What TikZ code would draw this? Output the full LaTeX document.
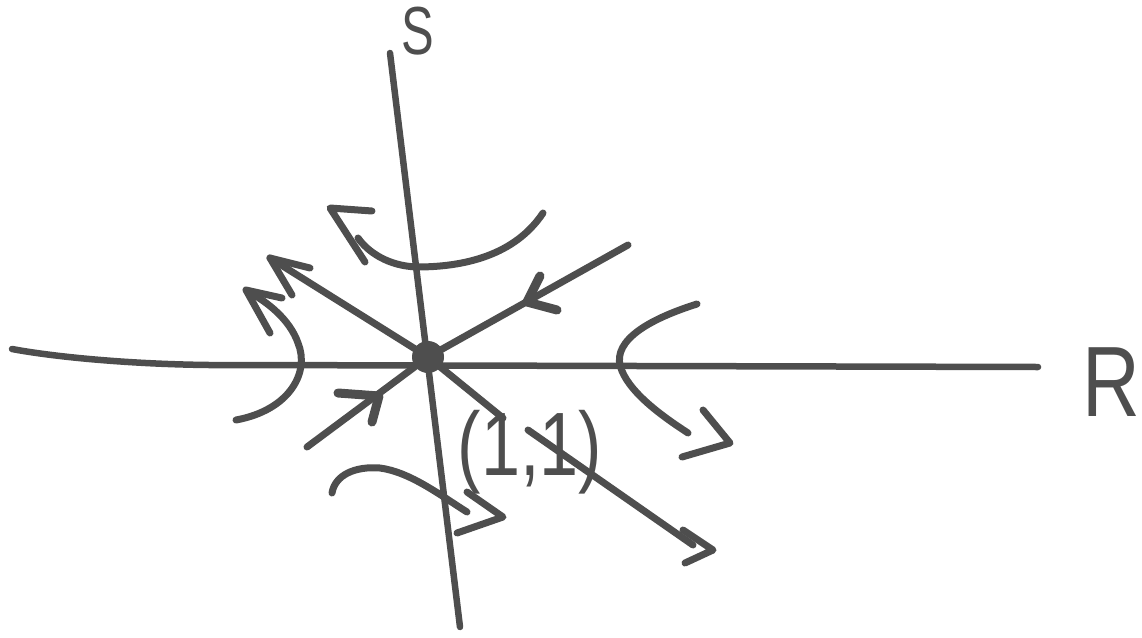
\documentclass[tikz,border=0pt]{standalone}
\usepackage{fontspec}
\newfontfamily\handfont{Liberation Sans}
\usetikzlibrary{calc}
\definecolor{pen}{RGB}{78,78,78}
\tikzset{
  stroke/.style={draw=pen, line width=7pt, line cap=round, line join=round},
  axisline/.style={stroke, line width=6.5pt},
  barb/.style={stroke, line width=7pt},
  heavybarb/.style={stroke, line width=9pt},
  hand/.style={text=pen, inner sep=0pt},
  dot/.style={circle, fill=pen, draw=none, minimum size=32pt, inner sep=0pt}
}
\begin{document}
\begin{tikzpicture}[x=1pt,y=-1pt]
\useasboundingbox (0,0) rectangle (1142,637);
% coordinates
\coordinate (hL) at (12,349);
\coordinate (hR) at (1038,367);
\coordinate (vT) at (390,53);
\coordinate (vB) at (460,627);
\coordinate (ne) at (628,245);
\coordinate (sw) at (307,447);
\coordinate (nw) at (270,258);
\coordinate (seA) at (503,418);
\coordinate (seB) at (528,430);
\coordinate (se) at (693,545);
% axes
\draw[axisline] (hL) .. controls (60,358) and (150,366) .. (240,365) -- (hR);
\draw[axisline] (vT) -- (vB);
% centre dot
\node[dot] (c) at (428,357) {};
% separatrices
\draw[stroke] (ne) -- (c.center);
\draw[stroke] (sw) -- (c.center);
\draw[stroke] (nw) -- (c.center);
\draw[stroke] (c.center) -- (seA);
\draw[stroke] (seB) -- (se);
% incoming arrowheads
\draw[heavybarb] (540,276) -- (527,302) -- (557,310);
\draw[heavybarb] (338,393) -- (379,396) -- (372,422);
% outgoing arrowhead NW
\draw[barb] (310,268) -- (nw) -- (292,295);
% outgoing arrowhead SE (detached)
\draw[barb] (683,530) -- (713,550) -- (685,563);
% top trajectory
\draw[stroke] (543,213) .. controls (515,255) and (465,267) .. (417,267)
  .. controls (388,266) and (368,252) .. (358,238);
\draw[barb] (365,262) -- (330,208) -- (372,211);
% left trajectory
\draw[stroke] (236,420) .. controls (290,410) and (310,372) .. (298,343)
  .. controls (290,320) and (268,302) .. (247,291);
\draw[barb] (282,298) -- (246,290) -- (270,333);
% right trajectory
\draw[stroke] (697,304) .. controls (640,322) and (610,345) .. (622,371)
  .. controls (632,395) and (665,418) .. (688,433);
\draw[barb] (703,410) -- (730,443) -- (682,457);
% bottom trajectory
\draw[stroke] (332,493) .. controls (335,475) and (355,466) .. (380,468)
  .. controls (410,472) and (440,495) .. (467,512);
\draw[barb] (467,492) -- (503,517) -- (457,533);
% labels
\node[hand, font=\handfont\fontsize{68}{68}\selectfont, xscale=0.72] (S) at (418,31) {S};
\node[hand, font=\handfont\fontsize{100}{100}\selectfont, xscale=0.8] (R) at (1111,382) {R};
\node[hand, font=\handfont\fontsize{90}{90}\selectfont, xscale=0.78] (P) at (530,452) {(1,1)};
\end{tikzpicture}
\end{document}
